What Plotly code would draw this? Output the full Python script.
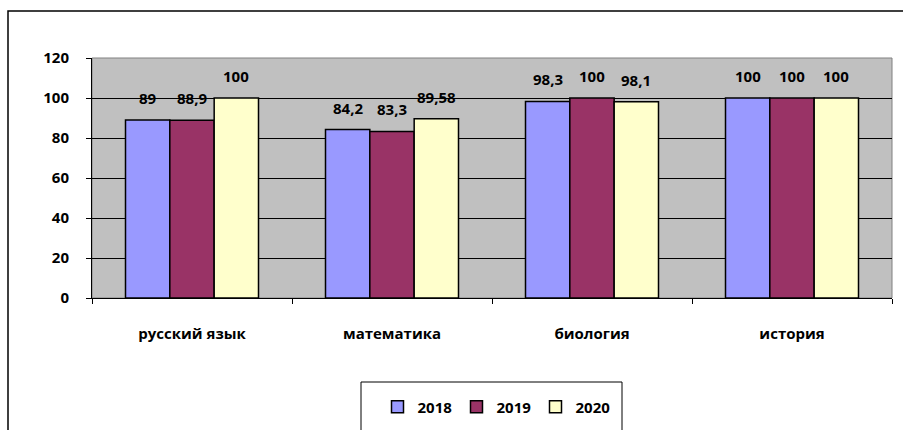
import plotly.graph_objects as go

categories = ["русский язык", "математика", "биология", "история"]
years = ["2018", "2019", "2020"]
values_2018 = [89, 84.2, 98.3, 100]
values_2019 = [88.9, 83.3, 100, 100]
values_2020 = [100, 89.58, 98.1, 100]
labels_2018 = ["89", "84,2", "98,3", "100"]
labels_2019 = ["88,9", "83,3", "100", "100"]
labels_2020 = ["100", "89,58", "98,1", "100"]
y_ticks = [0, 20, 40, 60, 80, 100, 120]

series = [values_2018, values_2019, values_2020]
series_labels = [labels_2018, labels_2019, labels_2020]
colors = ["#9999FF", "#993366", "#FFFFCC"]

W, H = 903, 430
L, R, T, B = 92, 11, 58, 132
plot_w = W - L - R
plot_h = H - T - B

FONT = "Open Sans"
FS = 15

fig = go.Figure()
for name, vals, col in zip(years, series, colors):
    fig.add_trace(go.Bar(
        x=categories, y=vals, name=name,
        marker=dict(color=col, line=dict(color="black", width=1.5)),
    ))

bargap = 0.335
bar_px = plot_w / len(categories) * (1 - bargap) / 3
for i, (vals, labs) in enumerate(zip(series, series_labels)):
    for c, v, t in zip(categories, vals, labs):
        fig.add_annotation(
            x=c, y=v, text=t, showarrow=False,
            xshift=(i - 1) * bar_px, yshift=22, yanchor="middle",
            font=dict(family=FONT, size=FS, color="black", weight="bold"),
        )

def px2x(px):
    return (px - L) / plot_w

def py2y(py):
    return (H - B - py) / plot_h

# outer chart border
fig.add_shape(type="rect", xref="paper", yref="paper",
              x0=px2x(8), x1=px2x(915), y0=py2y(445), y1=py2y(11),
              line=dict(color="black", width=1.5), fillcolor="rgba(0,0,0,0)", layer="below")
# plot area top/right border (gray)
fig.add_shape(type="rect", xref="paper", yref="paper",
              x0=0, x1=1, y0=0, y1=1,
              line=dict(color="#808080", width=1), fillcolor="rgba(0,0,0,0)", layer="below")
# legend box
fig.add_shape(type="rect", xref="paper", yref="paper",
              x0=px2x(361), x1=px2x(622), y0=py2y(445), y1=py2y(382),
              line=dict(color="black", width=1), fillcolor="rgba(0,0,0,0)")

fig.update_layout(
    width=W, height=H,
    margin=dict(l=L, r=R, t=T, b=B, autoexpand=False),
    paper_bgcolor="white", plot_bgcolor="#C0C0C0",
    barmode="group", bargap=bargap, bargroupgap=0,
    font=dict(family=FONT, size=FS, color="black", weight="bold"),
    showlegend=True,
    legend=dict(orientation="h", x=px2x(496), xanchor="center",
                y=py2y(407), yanchor="middle",
                bgcolor="rgba(0,0,0,0)", borderwidth=0,
                font=dict(family=FONT, size=FS, color="black", weight="bold"),
                entrywidth=34, itemwidth=30),
)
fig.update_xaxes(
    showline=True, linecolor="black", linewidth=1,
    ticks="outside", tickson="boundaries", ticklen=5, tickcolor="black",
    ticklabelstandoff=22, showgrid=False, automargin=False,
)
fig.update_yaxes(
    range=[0, 120], tickvals=y_ticks,
    showline=True, linecolor="black", linewidth=1,
    ticks="outside", ticklen=5, tickcolor="black",
    ticklabelstandoff=14, automargin=False,
    showgrid=True, gridcolor="black", gridwidth=1, zeroline=False,
)

fig.write_html("out.html",
               config={"displayModeBar": False},
               post_script="document.body.style.margin='0';document.body.style.overflow='hidden';")
